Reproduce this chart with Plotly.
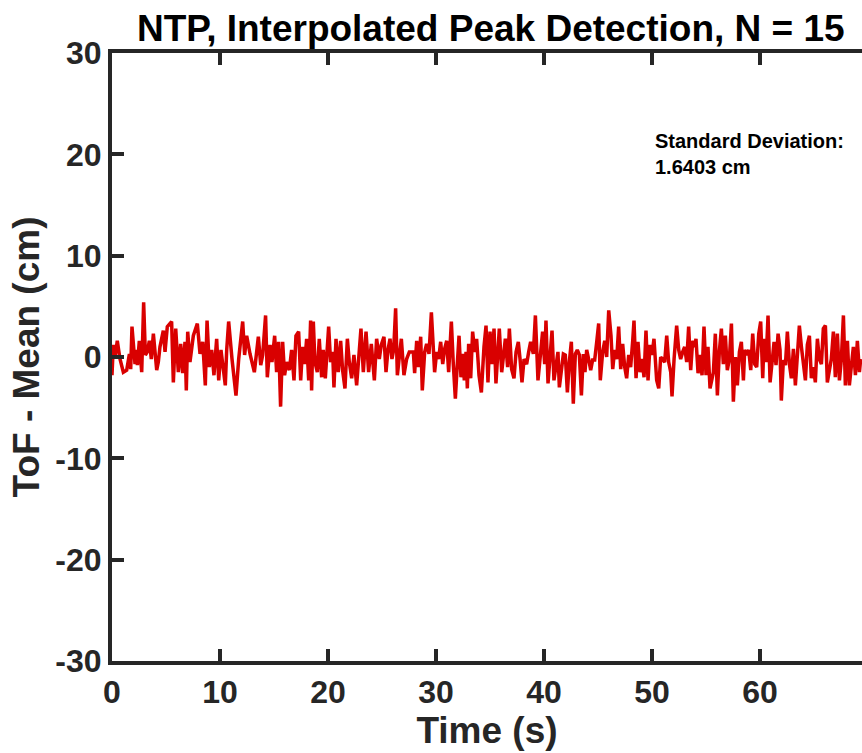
import plotly.graph_objects as go

# Time (s) and ToF - Mean (cm)
time_s = [
    0.0, 0.12, 0.28, 0.49, 0.74, 1.05, 1.36, 1.61, 1.73, 1.85, 2.13, 2.28, 2.35, 2.53, 2.75, 2.93,
    3.09, 3.27, 3.46, 3.64, 3.83, 4.14, 4.29, 4.44, 4.75, 4.91, 5.12, 5.52, 5.68, 5.90, 6.14, 6.36,
    6.54, 6.76, 6.88, 7.01, 7.22, 7.53, 7.90, 8.15, 8.40, 8.64, 8.80, 9.01, 9.23, 9.44, 9.69, 9.88,
    10.09, 10.49, 10.62, 10.80, 11.11, 11.48, 11.73, 12.10, 12.28, 12.47, 12.78, 13.18, 13.55, 13.77,
    13.95, 14.22, 14.38, 14.63, 14.81, 15.06, 15.24, 15.43, 15.61, 15.80, 15.98, 16.17, 16.42, 16.63,
    16.85, 17.03, 17.28, 17.47, 17.65, 17.84, 18.02, 18.21, 18.39, 18.48, 18.64, 18.79, 19.01, 19.19,
    19.41, 19.56, 19.75, 20.06, 20.24, 20.43, 20.55, 20.74, 20.95, 21.17, 21.35, 21.57, 21.79, 21.97,
    22.19, 22.40, 22.65, 22.84, 23.05, 23.27, 23.52, 23.76, 24.01, 24.29, 24.50, 24.75, 24.93, 25.18,
    25.37, 25.55, 25.74, 25.92, 26.08, 26.26, 26.42, 26.60, 26.79, 27.03, 27.28, 27.53,
    27.90, 28.02, 28.21, 28.39, 28.58, 28.73, 28.95, 29.13, 29.35, 29.57, 29.87, 30.06, 30.24, 30.43,
    30.62, 30.80, 30.99, 31.17, 31.42, 31.60, 31.79, 31.97, 32.13, 32.31, 32.47, 32.62, 32.78, 32.90,
    33.02, 33.21, 33.39, 33.58, 33.76, 33.98, 34.20, 34.44, 34.63, 34.81, 35.00, 35.18, 35.37, 35.55,
    35.68, 35.86, 36.08, 36.23, 36.42, 36.63, 36.79, 37.00, 37.22, 37.41, 37.62, 37.78, 37.96, 38.15,
    38.39, 38.58, 38.76, 39.01, 39.20, 39.44, 39.69, 39.87, 40.06, 40.18, 40.37, 40.55, 40.74, 40.92,
    41.11, 41.29, 41.42,
    41.79, 41.97, 42.16, 42.34, 42.53, 42.71, 42.90, 43.08, 43.27, 43.46, 43.64, 43.79, 43.95, 44.13,
    44.32, 44.50, 44.69, 44.88, 45.06, 45.21, 45.43, 45.62, 45.80, 45.99, 46.20, 46.36, 46.54, 46.73,
    46.91, 47.10, 47.28, 47.47, 47.65, 47.84, 48.02, 48.21, 48.33, 48.52, 48.70, 48.89, 49.07, 49.26,
    49.44, 49.63, 49.81, 50.00, 50.18, 50.43, 50.62, 50.80, 50.99, 51.17, 51.36, 51.54, 51.73, 51.85,
    52.04, 52.28, 52.47, 52.65, 52.84, 53.02, 53.21, 53.39, 53.58, 53.76, 53.95, 54.07, 54.26, 54.44,
    54.63, 54.81, 55.00, 55.18, 55.37,
    55.68, 55.86, 56.05, 56.23, 56.42, 56.60, 56.79, 56.97, 57.16, 57.35, 57.53, 57.72, 57.90, 58.09,
    58.27, 58.46, 58.58, 58.77, 58.95, 59.14, 59.32, 59.51, 59.69, 59.88, 60.06, 60.25, 60.37, 60.56,
    60.74, 60.93, 61.11, 61.30, 61.48, 61.67, 61.85, 61.97, 62.16, 62.35, 62.53, 62.72, 62.90, 63.09,
    63.27, 63.46, 63.64, 63.83, 64.01, 64.20, 64.38, 64.57, 64.75, 64.94, 65.12, 65.31, 65.49, 65.68,
    65.86, 66.05, 66.23, 66.42, 66.60, 66.79, 66.97, 67.16, 67.35, 67.53, 67.72, 67.90, 68.09, 68.27,
    68.46, 68.64, 68.83, 69.01, 69.20, 69.32,
]

tof_minus_mean_cm = [
    -1.8, 1.2, 0.0, 1.6, -0.2, -1.5, -1.3, 0.3, -1.2, 3.0, -0.7, 0.7, -0.8, 1.6, -1.5, 5.4,
    0.2, 0.5, 1.6, -0.2, 2.3, -1.3, -0.5, 1.0, 2.6, 0.5, 3.0, 3.5, -2.5, 2.8, -1.5, 1.3,
    -1.6, 1.5, -3.3, 2.5, -0.5, 2.1, 3.3, 0.3, 1.5, -2.8, 3.6, -1.0, 0.7, -1.8, 1.8, -2.3,
    0.7, -2.8, 0.7, 3.5, -0.2, -3.8, -0.2, 3.5, 0.2, 2.1, 0.3, -1.5, 2.0, -0.8,
    0.2, 4.1, -2.0, 1.2, -0.5, 2.1, -1.5, 1.5, -4.9, 1.5, -1.8, -0.5, -1.3, 0.7,
    -2.3, 2.1, 2.5, -2.3, 1.0, -0.7, 1.8, -2.3, 3.6, -3.3, 3.5, -0.5, -1.5, 1.8,
    -2.0, 0.7, -2.1, 3.0, -0.5, 0.5, -3.0, 1.8, -1.5, 1.6, -1.3, -3.1, 1.8, -0.5,
    -2.1, 0.2, -2.8, -0.2, 2.8, -1.5, 2.5, -1.5, 1.3, -2.3, 1.8, -0.2, 1.2, 2.0,
    -1.5, 0.7, 1.8, -0.2, 0.7, 4.8, -1.8, 0.0, 1.8, -1.8, -0.2, 0.5,
    0.5, -1.6, 1.6, -1.0, 2.0, -3.3, 0.5, 1.3, 0.3, 4.4, -1.5, 0.5, -0.2, 1.5,
    -0.7, 0.8, 1.6, -1.5, 3.5, -0.7, -4.1, -0.7, 2.1, -2.0, 0.3, -2.3, 0.5, -3.1,
    1.3, -2.1, 2.5, 0.5, 1.8, -1.8, -3.5, 1.0, 3.1, -2.5, 2.5, -0.7, 2.8, -2.6,
    0.0, 2.8, -1.5, 0.2, 1.8, -1.0, 2.8, -1.2, -2.1, 0.5, 1.5, -0.2, -2.5, -0.2,
    -0.7, 0.5, 1.5, 0.3, 4.1, -2.3, 0.5, 2.5, -0.7, 3.6, -2.6, -0.2, 2.6, -2.3,
    -0.7, 0.5, -3.0,
    0.3, 0.2, -3.5, -0.5, 1.5, -4.6, 0.3, 0.7, 0.2, -3.8, 0.3, -1.5, 0.7, -0.2,
    -1.3, -0.3, -0.3, 1.5, 3.3, -2.3, 0.5, 1.6, 0.0, 4.6, 2.1, -1.2, 0.7, -0.2,
    3.0, -1.2, 1.3, -1.0, -2.1, 0.2, -1.0, 1.6, 3.6, -2.1, 1.5, -1.5, -0.2, -2.0,
    2.6, -2.3, 1.2, 0.2, 1.8, -2.3, -3.1, 0.0, -0.2, -0.5, 2.1, -0.5, -1.5, -3.9,
    -0.2, 3.1, 0.7, -0.2, 0.5, 1.0, -0.5, 3.0, -1.3, 1.6, 1.0, 1.8, -1.6, 0.2,
    -1.8, 3.0, -1.8, 1.0, -3.1,
    -1.5, 2.3, -3.8, 0.5, 2.8, -0.7, 2.1, -1.3, -0.2, 3.3, -4.4, 0.0, -2.8, 0.5,
    1.5, -2.3, 0.7, 0.2, 0.7, -1.3, 2.3, -0.7, -1.0, 2.3, 3.5, -2.1, 1.8, -0.5,
    4.1, -2.5, -0.5, 1.5, -0.8, 2.3, 0.7, -4.3, -0.3, -0.8, 2.5, -0.7, -2.1, 0.8,
    -2.8, -0.3, 3.1, 1.0, -1.0, -2.3, 1.2, 2.1, -2.1, -1.0, -2.5, 1.8, -0.2, -0.7,
    2.8, 3.1, -2.5, -1.2, -0.2, 2.5, -2.0, 2.3, -2.3, -0.2, 4.1, -2.8, 1.6, -2.8,
    -0.7, 1.0, -1.8, 1.6, -1.5, -0.2,
]

x_ticks = [0, 10, 20, 30, 40, 50, 60]
y_ticks = [-30, -20, -10, 0, 10, 20, 30]
x_range = [0, 69.44]
y_range = [-30, 30]

title_text = "NTP, Interpolated Peak Detection, N = 15"
x_title = "Time (s)"
y_title = "ToF - Mean (cm)"
note_lines = ["Standard Deviation:", "1.6403 cm"]
note_x = 50.1
note_y = 22.6

FONT = "Liberation Sans, Arial, Helvetica, sans-serif"
AXIS_COLOR = "#262626"

fig = go.Figure()
fig.add_trace(go.Scatter(
    x=time_s, y=tof_minus_mean_cm, mode="lines",
    line=dict(color="#D90000", width=3.5),
    showlegend=False, hoverinfo="skip",
))

fig.add_annotation(
    x=note_x, y=note_y, xref="x", yref="y",
    text="<br>".join(f"<b>{s}</b>" for s in note_lines),
    showarrow=False, xanchor="left", yanchor="top", align="left",
    font=dict(family=FONT, size=20, color="black"),
)

fig.update_layout(
    width=862, height=753,
    margin=dict(l=112, r=0, t=53, b=92),
    paper_bgcolor="white", plot_bgcolor="white",
    title=dict(
        text="<b>" + title_text + "</b>",
        font=dict(family=FONT, size=37, color="black"),
        x=0.505, xref="paper", xanchor="center",
        y=1 - 28 / 753, yref="container", yanchor="middle",
    ),
    font=dict(family=FONT, color=AXIS_COLOR),
)

fig.update_xaxes(
    range=x_range, tickvals=x_ticks, ticktext=[f"<b>{v}</b>" for v in x_ticks],
    showgrid=False, zeroline=False,
    showline=True, linecolor=AXIS_COLOR, linewidth=4, mirror="ticks",
    ticks="inside", ticklen=12, tickwidth=4, tickcolor=AXIS_COLOR,
    tickfont=dict(family=FONT, size=32, color=AXIS_COLOR),
    title=dict(text="<b>" + x_title + "</b>", font=dict(family=FONT, size=37, color=AXIS_COLOR), standoff=6),
)
fig.update_yaxes(
    range=y_range, tickvals=y_ticks, ticktext=[f"<b>{v}</b>" for v in y_ticks],
    showgrid=False, zeroline=False,
    showline=True, linecolor=AXIS_COLOR, linewidth=4,
    ticks="inside", ticklen=12, tickwidth=4, tickcolor=AXIS_COLOR,
    tickfont=dict(family=FONT, size=32, color=AXIS_COLOR),
    title=dict(text="<b>" + y_title + "</b>", font=dict(family=FONT, size=37, color=AXIS_COLOR), standoff=5),
)

fig.write_html(
    "out.html",
    config={"displayModeBar": False, "staticPlot": True},
    post_script="document.body.style.margin='0';document.body.style.overflow='hidden';",
)
